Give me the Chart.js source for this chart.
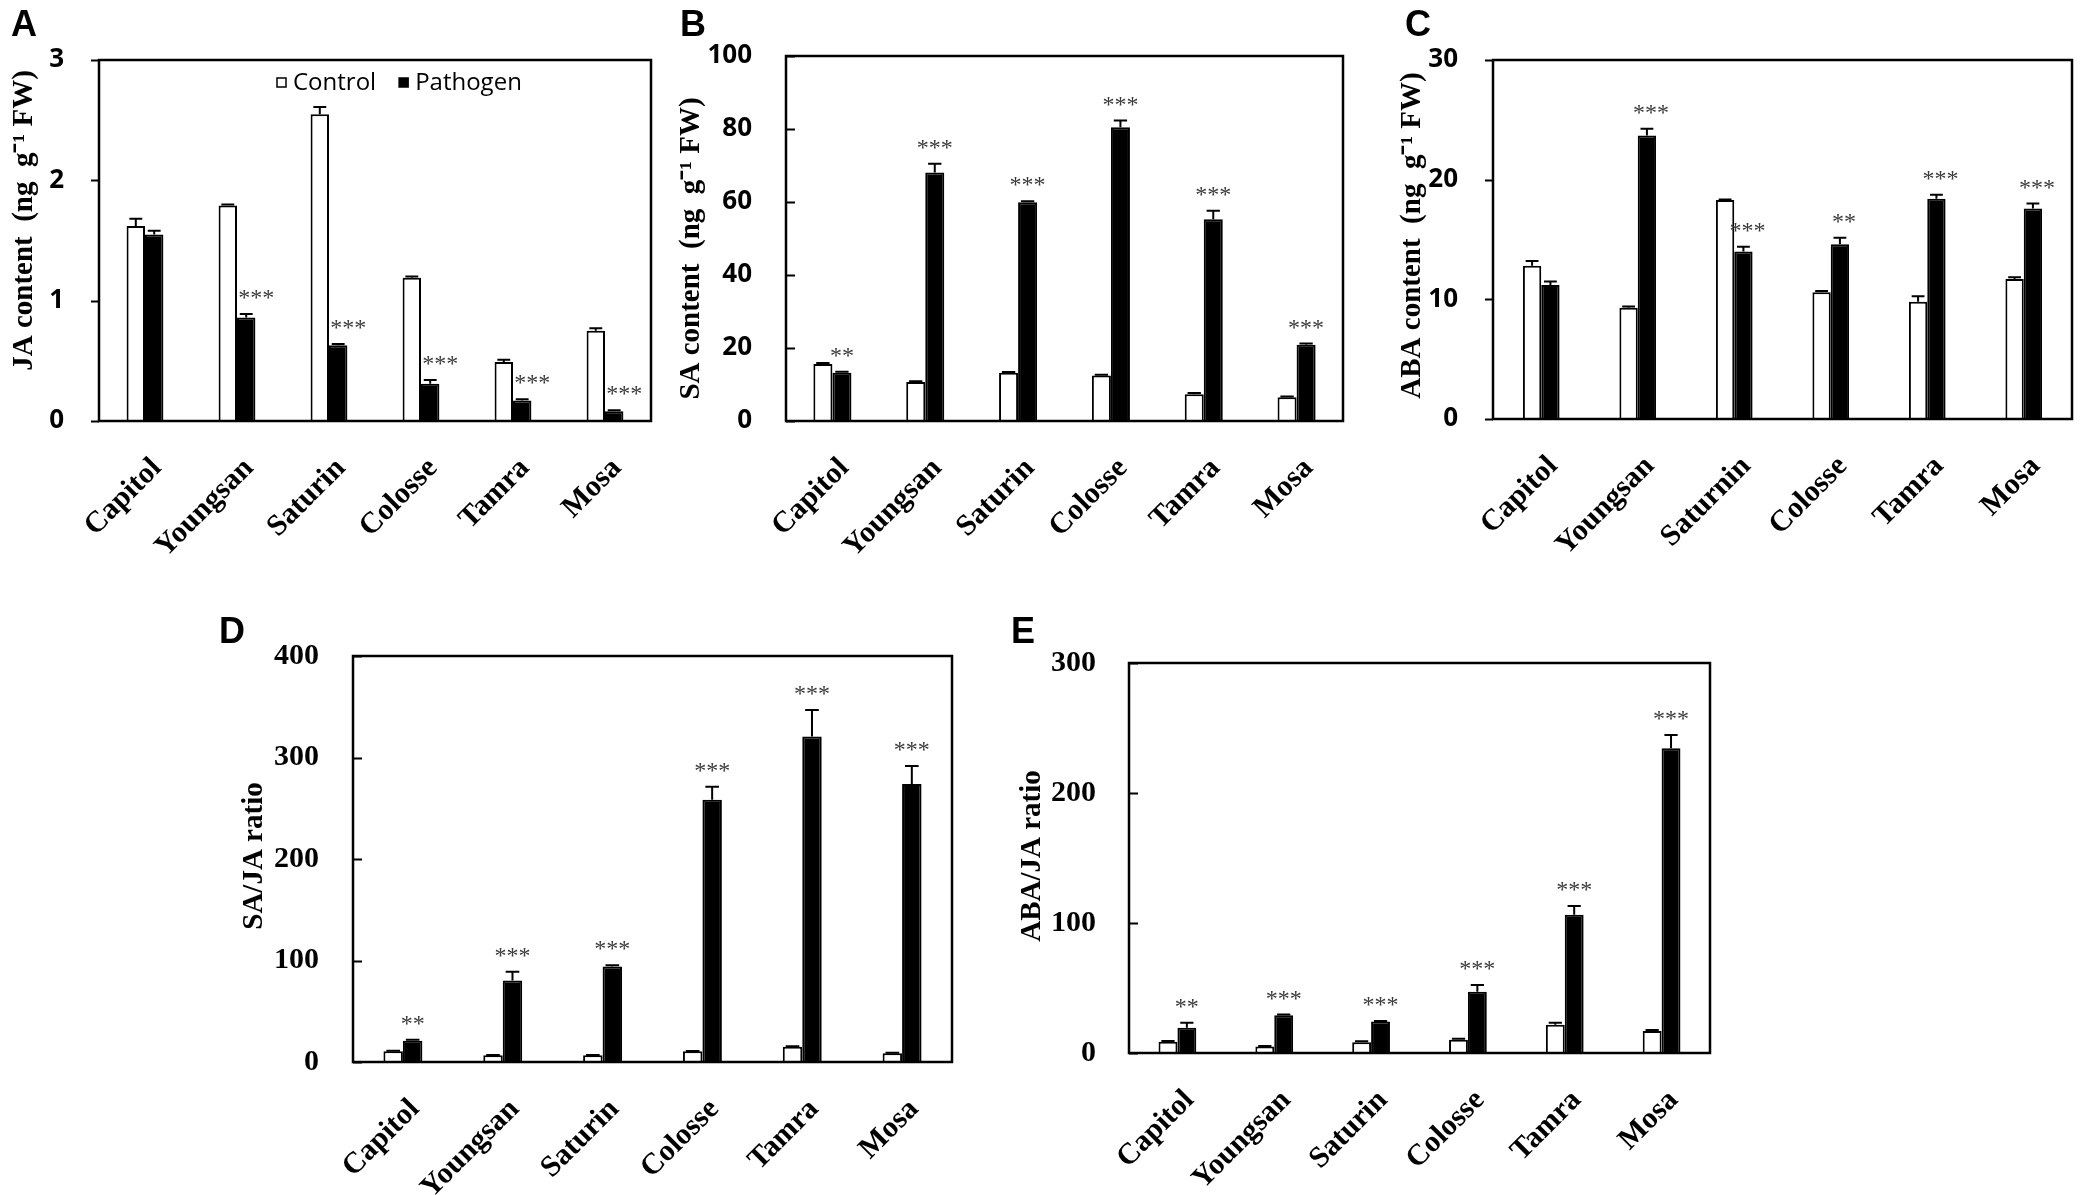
<!DOCTYPE html>
<html>
<head>
<meta charset="utf-8">
<script src="https://cdn.jsdelivr.net/npm/chart.js@4.4.1/dist/chart.umd.min.js"></script>
<style>
  body { margin: 0; background: #fff; }
  #page { position: relative; width: 2080px; height: 1195px; overflow: hidden; background: #fff; }
  canvas { position: absolute; }
  .tag { position: absolute; font: bold 36px "Liberation Sans", Arial, sans-serif; line-height: 36px; color: #000; }
</style>
</head>
<body>
<div id="page">
  <canvas id="chartA" width="680" height="600" style="left:0px;top:0px;width:680px;height:600px"></canvas>
  <canvas id="chartB" width="703" height="600" style="left:667px;top:0px;width:703px;height:600px"></canvas>
  <canvas id="chartC" width="692" height="600" style="left:1388px;top:0px;width:692px;height:600px"></canvas>
  <canvas id="chartD" width="750" height="595" style="left:230px;top:600px;width:750px;height:595px"></canvas>
  <canvas id="chartE" width="732" height="595" style="left:1008px;top:600px;width:732px;height:595px"></canvas>
  <div class="tag" style="left:11px;top:6px">A</div>
  <div class="tag" style="left:680px;top:6px">B</div>
  <div class="tag" style="left:1405px;top:6px">C</div>
  <div class="tag" style="left:219px;top:613px">D</div>
  <div class="tag" style="left:1011px;top:613px">E</div>
</div>
<script>
// 품종 (x축)
const cultivars = ['Capitol', 'Youngsan', 'Saturin', 'Colosse', 'Tamra', 'Mosa'];
const cultivarsAba = ['Capitol', 'Youngsan', 'Saturnin', 'Colosse', 'Tamra', 'Mosa'];
const seriesNames = ['Control', 'Pathogen'];

// A: JA content
const jaTicks = [0, 1, 2, 3];
const jaControl = [1.62, 1.79, 2.55, 1.19, 0.49, 0.75];
const jaControlErr = [0.06, 0.01, 0.06, 0.01, 0.02, 0.02];
const jaPathogen = [1.55, 0.86, 0.63, 0.31, 0.17, 0.08];
const jaPathogenErr = [0.03, 0.03, 0.01, 0.03, 0.01, 0.01];
const jaSig = ['', '***', '***', '***', '***', '***'];

// B: SA content
const saTicks = [0, 20, 40, 60, 80, 100];
const saControl = [15.6, 10.7, 13.2, 12.5, 7.3, 6.5];
const saControlErr = [0.3, 0.2, 0.2, 0.2, 0.4, 0.2];
const saPathogen = [13.2, 68.1, 59.9, 80.5, 55.3, 20.9];
const saPathogenErr = [0.3, 2.4, 0.3, 1.8, 2.3, 0.3];
const saSig = ['**', '***', '***', '***', '***', '***'];

// C: ABA content
const abaTicks = [0, 10, 20, 30];
const abaControl = [12.8, 9.3, 18.3, 10.6, 9.8, 11.7];
const abaControlErr = [0.4, 0.1, 0.05, 0.1, 0.45, 0.15];
const abaPathogen = [11.2, 23.7, 14.0, 14.6, 18.4, 17.6];
const abaPathogenErr = [0.3, 0.55, 0.4, 0.55, 0.35, 0.4];
const abaSig = ['', '***', '***', '**', '***', '***'];

// D: SA/JA ratio
const saJaTicks = [0, 100, 200, 300, 400];
const saJaControl = [10.5, 6.7, 6.7, 10.5, 15.0, 8.6];
const saJaControlErr = [0.5, 0.3, 0.3, 0.4, 0.5, 0.4];
const saJaPathogen = [20.9, 80.4, 94.2, 258.3, 320.7, 274.0];
const saJaPathogenErr = [1.0, 8.6, 1.0, 13.0, 26.0, 17.6];
const saJaSig = ['**', '***', '***', '***', '***', '***'];

// E: ABA/JA ratio
const abaJaTicks = [0, 100, 200, 300];
const abaJaControl = [8.7, 5.0, 8.2, 10.2, 21.8, 16.9];
const abaJaControlErr = [0.5, 0.3, 0.8, 0.8, 1.5, 0.8];
const abaJaPathogen = [19.5, 29.1, 24.2, 47.2, 106.3, 234.5];
const abaJaPathogenErr = [3.8, 0.5, 0.5, 5.2, 6.7, 10.2];
const abaJaSig = ['**', '***', '***', '***', '***', '***'];

const SERIF = '"Liberation Serif", "Times New Roman", serif';
const SANS = '"Open Sans", "Liberation Sans", Arial, sans-serif';

// 테두리 박스 + y축 눈금
const frameBox = {
  id: 'frameBox',
  afterDraw(chart, args, opts) {
    const a = chart.chartArea, ctx = chart.ctx, y = chart.scales.y;
    ctx.save();
    ctx.strokeStyle = '#000';
    ctx.lineWidth = 2;
    ctx.beginPath();
    y.ticks.forEach(t => {
      const py = Math.round(y.getPixelForValue(t.value)) + 0.5;
      ctx.moveTo(a.left, py);
      ctx.lineTo(a.left + (opts.tickIn ? 9 : -8), py);
    });
    ctx.stroke();
    ctx.lineWidth = 2.5;
    ctx.strokeRect(a.left, a.top, a.right - a.left, a.bottom - a.top);
    ctx.restore();
  }
};

// 오차 막대
const errorBars = {
  id: 'errorBars',
  afterDatasetsDraw(chart) {
    const ctx = chart.ctx, y = chart.scales.y;
    chart.data.datasets.forEach((ds, i) => {
      chart.getDatasetMeta(i).data.forEach((bar, j) => {
        const e = ds.err ? ds.err[j] : 0;
        if (!e) return;
        const top = y.getPixelForValue(ds.data[j] + e);
        const half = bar.width * 0.35;
        ctx.save();
        ctx.strokeStyle = '#000';
        ctx.lineWidth = 2;
        ctx.beginPath();
        ctx.moveTo(bar.x, bar.y);
        ctx.lineTo(bar.x, top);
        ctx.moveTo(bar.x - half, top);
        ctx.lineTo(bar.x + half, top);
        ctx.stroke();
        ctx.restore();
      });
    });
  }
};

// 유의성 별표
const sigStars = {
  id: 'sigStars',
  afterDatasetsDraw(chart, args, opts) {
    const ctx = chart.ctx, y = chart.scales.y;
    const ds = chart.data.datasets[1];
    if (!ds.sig) return;
    chart.getDatasetMeta(1).data.forEach((bar, j) => {
      const s = ds.sig[j];
      if (!s) return;
      const top = y.getPixelForValue(ds.data[j] + (ds.err ? ds.err[j] : 0));
      ctx.save();
      ctx.fillStyle = '#3a3a3a';
      ctx.font = '24px ' + SERIF;
      ctx.textAlign = 'center';
      ctx.textBaseline = 'alphabetic';
      ctx.fillText(s, bar.x + (opts.dx || 0), top - 9);
      ctx.restore();
    });
  }
};

// y축 제목 (세로)
const yTitle = {
  id: 'yTitle',
  afterDraw(chart, args, opts) {
    if (!opts.text) return;
    const a = chart.chartArea, ctx = chart.ctx;
    ctx.save();
    ctx.translate(25, (a.top + a.bottom) / 2 + (opts.dy || 0));
    ctx.rotate(-Math.PI / 2);
    ctx.fillStyle = '#000';
    ctx.font = 'bold 29px ' + SERIF;
    ctx.textAlign = 'center';
    ctx.textBaseline = 'middle';
    ctx.fillText(opts.text, 0, 0);
    ctx.restore();
  }
};

// 범례 (차트 영역 안쪽 위)
const innerLegend = {
  id: 'innerLegend',
  afterDraw(chart, args, opts) {
    if (!opts.show) return;
    const a = chart.chartArea, ctx = chart.ctx;
    let x = a.left + 178;
    const cy = a.top + 23;
    ctx.save();
    ctx.font = '24px ' + SANS;
    ctx.textBaseline = 'middle';
    chart.data.datasets.forEach(ds => {
      ctx.fillStyle = ds.backgroundColor;
      ctx.fillRect(x, cy - 5, 9, 9);
      ctx.strokeStyle = ds.borderColor;
      ctx.lineWidth = 1.5;
      ctx.strokeRect(x, cy - 5, 9, 9);
      ctx.fillStyle = '#000';
      ctx.fillText(ds.label, x + 16, cy);
      x += 16 + ctx.measureText(ds.label).width + 23;
    });
    ctx.restore();
  }
};

function buildPanel(p) {
  const canvas = document.getElementById(p.id);
  return new Chart(canvas, {
    type: 'bar',
    data: {
      labels: p.labels,
      datasets: [
        { label: seriesNames[0], data: p.control, err: p.controlErr,
          backgroundColor: '#fff', borderColor: '#000', borderWidth: 2,
          categoryPercentage: p.catPct, barPercentage: 1.0 },
        { label: seriesNames[1], data: p.pathogen, err: p.pathogenErr, sig: p.sig,
          backgroundColor: '#000', borderColor: '#000', borderWidth: 2,
          categoryPercentage: p.catPct, barPercentage: 1.0 }
      ]
    },
    options: {
      responsive: false,
      animation: false,
      devicePixelRatio: 1,
      layout: { padding: { left: 0, top: p.padTop, right: p.padRight, bottom: 0 } },
      scales: {
        x: {
          grid: { display: false },
          border: { display: false },
          ticks: {
            color: '#000', autoSkip: false, minRotation: 45, maxRotation: 45,
            padding: 22, labelOffset: 12,
            font: { family: SERIF, size: 30, weight: 'bold' }
          },
          afterFit: s => { s.height = p.xHeight; }
        },
        y: {
          min: p.ticks[0],
          max: p.ticks[p.ticks.length - 1],
          afterBuildTicks: s => { s.ticks = p.ticks.map(v => ({ value: v })); },
          grid: { display: false },
          border: { display: false },
          ticks: { color: '#000', padding: p.tickPad, font: p.tickFont },
          afterFit: s => { s.width = p.yWidth; }
        }
      },
      plugins: {
        legend: { display: false },
        tooltip: { enabled: false },
        sigStars: { dx: p.starDx || 0 },
        frameBox: { tickIn: p.tickIn },
        yTitle: { text: p.title, dy: p.titleDy },
        innerLegend: { show: !!p.legend }
      }
    },
    plugins: [frameBox, errorBars, sigStars, yTitle, innerLegend]
  });
}

const sansTick = { family: SANS, size: 26, weight: 'bold' };
const serifTick = { family: SERIF, size: 30, weight: 'bold' };

buildPanel({ id: 'chartA', labels: cultivars, ticks: jaTicks,
  control: jaControl, controlErr: jaControlErr, pathogen: jaPathogen, pathogenErr: jaPathogenErr, sig: jaSig,
  title: 'JA content  (ng  g\u207B\u00B9 FW)', titleDy: -20, tickFont: sansTick, legend: true, starDx: 10, tickIn: false,
  padTop: 60, padRight: 29, yWidth: 99, xHeight: 179, tickPad: 27, catPct: 0.40 });

buildPanel({ id: 'chartB', labels: cultivars, ticks: saTicks,
  control: saControl, controlErr: saControlErr, pathogen: saPathogen, pathogenErr: saPathogenErr, sig: saSig,
  title: 'SA content  (ng  g\u207B\u00B9 FW)', titleDy: 10, tickFont: sansTick, tickIn: true,
  padTop: 56, padRight: 27, yWidth: 119, xHeight: 179, tickPad: 26, catPct: 0.41 });

buildPanel({ id: 'chartC', labels: cultivarsAba, ticks: abaTicks,
  control: abaControl, controlErr: abaControlErr, pathogen: abaPathogen, pathogenErr: abaPathogenErr, sig: abaSig,
  title: 'ABA content  (ng  g\u207B\u00B9 FW)', titleDy: -4, tickFont: sansTick, starDx: 4, tickIn: false,
  padTop: 60, padRight: 8, yWidth: 105, xHeight: 181, tickPad: 27, catPct: 0.38 });

buildPanel({ id: 'chartD', labels: cultivars, ticks: saJaTicks,
  control: saJaControl, controlErr: saJaControlErr, pathogen: saJaPathogen, pathogenErr: saJaPathogenErr, sig: saJaSig,
  title: 'SA/JA ratio', titleDy: -3, tickFont: serifTick, tickIn: true,
  padTop: 56, padRight: 28, yWidth: 123, xHeight: 133, tickPad: 26, catPct: 0.39 });

buildPanel({ id: 'chartE', labels: cultivars, ticks: abaJaTicks,
  control: abaJaControl, controlErr: abaJaControlErr, pathogen: abaJaPathogen, pathogenErr: abaJaPathogenErr, sig: abaJaSig,
  title: 'ABA/JA ratio', titleDy: -2, tickFont: serifTick, tickIn: true,
  padTop: 63, padRight: 30, yWidth: 121, xHeight: 142, tickPad: 25, catPct: 0.39 });
</script>
</body>
</html>
